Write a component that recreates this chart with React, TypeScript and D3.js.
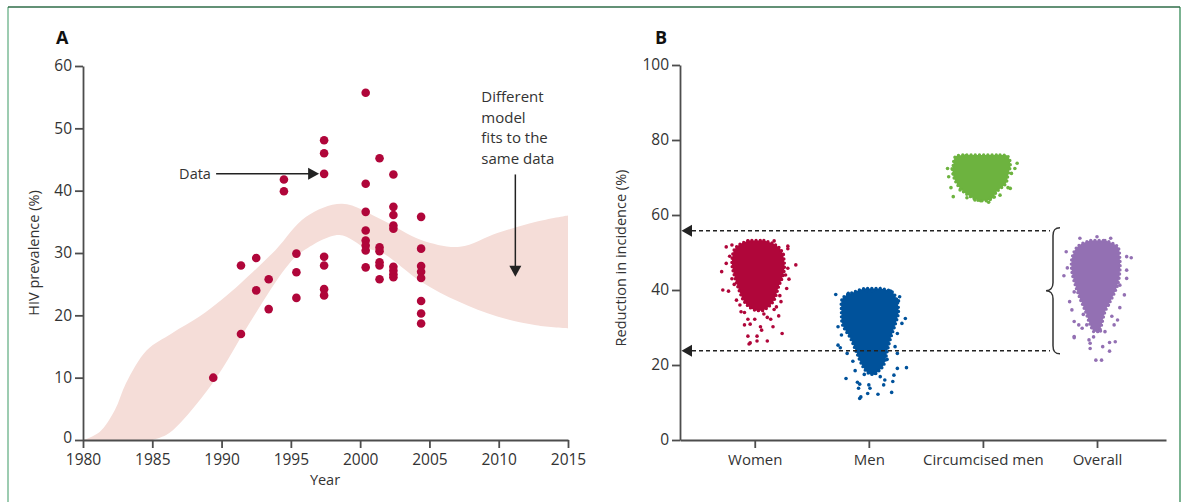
import React, { useEffect, useRef } from "react";
import * as d3 from "d3";

// Panel A: survey prevalence points
const surveyYears = [
  1989.4, 1991.4, 1991.4, 1992.5, 1992.5, 1993.4, 1993.4, 1994.5, 1994.5,
  1995.4, 1995.4, 1995.4, 1997.4, 1997.4, 1997.4, 1997.4, 1997.4, 1997.4, 1997.4,
  2000.4, 2000.4, 2000.4, 2000.4, 2000.4, 2000.4, 2000.4, 2000.4,
  2001.4, 2001.4, 2001.4, 2001.4, 2001.4, 2001.4,
  2002.4, 2002.4, 2002.4, 2002.4, 2002.4, 2002.4, 2002.4, 2002.4, 2002.4,
  2004.4, 2004.4, 2004.4, 2004.4, 2004.4, 2004.4, 2004.4, 2004.4,
];
const surveyPrevalence = [
  10, 28, 17, 29.2, 24, 25.8, 21, 41.8, 39.9,
  29.9, 26.9, 22.8, 48.1, 46, 42.7, 29.4, 28, 24.2, 23.2,
  55.7, 41.1, 36.6, 33.6, 32, 31.2, 30.4, 27.7,
  45.2, 30.9, 30.3, 28.5, 28, 25.8,
  42.6, 37.4, 36.1, 34.4, 33.9, 27.8, 27.2, 26.6, 26.1,
  35.8, 30.7, 27.9, 27, 26, 22.3, 20.3, 18.7,
];

// Panel A: model fit band edges
const bandUpperYears = [1980, 1981.2, 1982.3, 1983.1, 1984.6, 1986.4, 1988.4, 1990, 1991.4, 1993.9, 1996.1, 1998.7, 2001.6, 2004.4, 2007.2, 2009.9, 2012.7, 2015];
const bandUpperValues = [0, 1.3, 4.8, 9.1, 14.4, 17.1, 19.8, 22.5, 25.2, 30.5, 35.8, 37.9, 35.3, 32.1, 31, 33.2, 35, 36];
const bandLowerYears = [1985, 1986, 1987, 1989.5, 1992, 1994.7, 1995.8, 1998.5, 2000.4, 2001.6, 2004.4, 2007.1, 2009.9, 2012.7, 2015];
const bandLowerValues = [0, 0.8, 2.7, 9.6, 18.7, 27.8, 30.2, 32.9, 30.8, 30, 25.4, 22.2, 19.8, 18.4, 17.9];

const yearTicks = [1980, 1985, 1990, 1995, 2000, 2005, 2010, 2015];
const prevalenceTicks = [0, 10, 20, 30, 40, 50, 60];

// Panel B
const groups = ["Women", "Men", "Circumcised men", "Overall"];
const groupColors = ["#b0063a", "#00529b", "#6db33f", "#9370b3"];
const reductionTicks = [0, 20, 40, 60, 80, 100];

// dense part of each cloud: [reduction, left spread, right spread] (spread in category steps)
const womenCore = [[53.2, -0.04, 0.08], [52.4, -0.12, 0.16], [50.7, -0.18, 0.23], [47, -0.2, 0.26], [44, -0.18, 0.25], [41, -0.15, 0.21], [37.3, -0.1, 0.17], [35.5, -0.05, 0.12], [34.5, 0.01, 0.07]];
const menCore = [[40.4, -0.04, 0.1], [39.6, -0.12, 0.2], [37.8, -0.23, 0.24], [34.2, -0.24, 0.26], [30.7, -0.23, 0.23], [27.1, -0.16, 0.19], [23.5, -0.11, 0.16], [20, -0.06, 0.13], [18.2, -0.02, 0.08], [17.5, 0.01, 0.05]];
const circCore = [[76, -0.15, 0.15], [75.6, -0.24, 0.22], [73.3, -0.26, 0.24], [70.7, -0.26, 0.22], [68.4, -0.23, 0.2], [66.2, -0.17, 0.12], [64.4, -0.08, 0.08], [63.8, -0.03, 0.03]];
const overallCore = [[53.2, -0.06, 0.07], [51.6, -0.17, 0.18], [48.4, -0.22, 0.2], [44.9, -0.22, 0.2], [41.3, -0.19, 0.18], [37.8, -0.15, 0.13], [34.2, -0.1, 0.07], [30.7, -0.06, 0.04], [28.9, -0.03, 0.02]];

// scattered simulations outside the dense part: [offset in category steps, reduction]
const womenOutliers = [[-0.29, 44.9], [-0.28, 40], [-0.23, 39.7], [0.36, 46.7], [0.3, 42.9], [-0.25, 47.1], [-0.25, 51.5], [-0.2, 52], [-0.06, 53.1], [0.17, 53.1], [0.29, 51.7], [0.29, 51], [0.29, 45.8], [0.28, 40.4], [0.24, 28.4], [0.11, 26.4], [0.02, 27.7], [0.02, 26.4], [-0.06, 27.7], [-0.05, 25.6], [-0.04, 25.9], [-0.09, 30.7], [-0.04, 30.9], [0.05, 30.2], [0.06, 29.3], [0.16, 30.2], [0.21, 33.1], [0.14, 32.2], [0, 32.2], [-0.06, 32.2], [-0.09, 34], [-0.12, 34.2], [0.08, 33.6], [0.11, 32.7], [0.17, 34.8], [0.23, 36.9], [-0.16, 37.3], [-0.18, 41.5], [-0.22, 49], [0.25, 49.5], [0.27, 44], [-0.2, 43], [0.22, 38.5], [-0.13, 36], [0.19, 35.5]];
const menOutliers = [[-0.29, 38.8], [-0.27, 30.2], [-0.24, 28], [-0.27, 25.3], [-0.25, 24.6], [-0.19, 23.1], [-0.2, 16.4], [-0.1, 15.4], [-0.08, 14.9], [-0.09, 13.8], [-0.08, 11.1], [-0.07, 11.5], [-0.01, 12.4], [0.08, 12.2], [0.2, 12.7], [0.21, 15.6], [0.22, 17.3], [0.25, 19.1], [0.33, 19.3], [0.32, 32.4], [0.29, 31.1], [0.27, 38.2], [0.26, 37.1], [0.19, 39.7], [-0.02, 39.9], [0.03, 39.7], [-0.18, 39.1], [0.14, 16], [0.1, 16.9], [0.13, 14.7], [0, 14.7], [0.01, 13.8], [0.25, 23.1], [0.23, 24.9], [0.25, 28.4], [-0.14, 21], [-0.12, 18.5], [0.05, 17.8], [-0.04, 17.5], [0.16, 21.5]];
const circOutliers = [[-0.31, 72.4], [-0.3, 70.2], [-0.27, 72.3], [-0.26, 71], [0.28, 72.4], [0.3, 73.8], [0.25, 71.1], [0.24, 67.1], [0.22, 67.3], [-0.28, 67.3], [-0.26, 64.9], [-0.2, 66.7], [-0.14, 64.6], [-0.07, 64], [0.05, 63.4], [0.06, 64.4], [0.15, 65.3], [-0.15, 75.8], [0.2, 75.5], [-0.02, 63.8], [0.1, 64.8]];
const overallOutliers = [[-0.15, 53.8], [0, 54.2], [0.12, 53.8], [-0.27, 50.2], [-0.29, 43.8], [-0.26, 45.9], [0.26, 48.9], [0.3, 48.6], [0.26, 45.3], [0.26, 43.1], [0.24, 38.7], [0.2, 41.3], [-0.24, 36.9], [-0.22, 34.7], [-0.2, 31.6], [-0.2, 27.6], [-0.13, 29.8], [-0.07, 26.7], [-0.06, 25.8], [-0.06, 24.4], [0.05, 24.9], [0.11, 26], [0.11, 23.7], [0.16, 26.2], [-0.01, 21.3], [0.04, 21.3], [0.18, 32], [0.15, 30.7], [0.07, 28.9], [0.03, 29.1], [-0.09, 30.7], [-0.16, 30.7], [0.2, 35.3], [-0.2, 39.5], [-0.2, 27.3], [0.13, 33], [-0.12, 33.5], [0.1, 36], [-0.03, 27.5]];

const cores = [womenCore, menCore, circCore, overallCore];
const outliers = [womenOutliers, menOutliers, circOutliers, overallOutliers];

// range of the overall estimate, shown with the dashed arrows
const overallRange = [55.8, 23.8];

const FONT = "'Open Sans', sans-serif";
const INK = "#333";
const AXIS = "#4d4d4d";

const App = () => {
  const ref = useRef<SVGSVGElement>(null);

  useEffect(() => {
    drawChart();
  }, []);

  const drawChart = () => {
    const svg = d3.select(ref.current);
    svg.selectAll("*").remove();

    // frame
    svg.append("line").attr("x1", 8).attr("x2", 8).attr("y1", 7).attr("y2", 502)
      .attr("stroke", "#7dbb97").attr("stroke-width", 1.5);
    svg.append("line").attr("x1", 1180).attr("x2", 1180).attr("y1", 7).attr("y2", 502)
      .attr("stroke", "#4f9a6c").attr("stroke-width", 1.5);
    svg.append("line").attr("x1", 8).attr("x2", 1180).attr("y1", 7).attr("y2", 7)
      .attr("stroke", "#2f6c48").attr("stroke-width", 1.5);

    const styleAxis = (size) => (g) => {
      g.select(".domain").attr("stroke", AXIS).attr("stroke-width", 1.8);
      g.selectAll(".tick line").attr("stroke", AXIS).attr("stroke-width", 1.8);
      g.selectAll(".tick text").attr("fill", INK).attr("font-family", FONT).attr("font-size", size);
    };

    // ---------- Panel A ----------
    const xA = d3.scaleLinear().domain([1980, 2015]).range([83, 568]);
    const yA = d3.scaleLinear().domain([0, 60]).range([440, 66]);

    const upper = bandUpperYears.map((yr, i) => [xA(yr), yA(bandUpperValues[i])]);
    const lower = bandLowerYears.map((yr, i) => [xA(yr), yA(bandLowerValues[i])]).reverse();
    const line = d3.line().curve(d3.curveCatmullRom.alpha(0.5));
    const bandPath = line(upper) + "L" + line(lower).slice(1) + "Z";
    svg.append("path").attr("d", bandPath).attr("fill", "#f5ddd8");

    svg.append("g")
      .attr("transform", "translate(0,440)")
      .call(d3.axisBottom(xA).tickValues(yearTicks).tickFormat(d3.format("d")).tickSize(8).tickSizeOuter(0).tickPadding(6))
      .call(styleAxis(15.5));
    svg.append("g")
      .attr("transform", "translate(83,0)")
      .call(d3.axisLeft(yA).tickValues(prevalenceTicks).tickSize(8).tickSizeOuter(0).tickPadding(3))
      .call(styleAxis(15.5))
      .call((g) => g.selectAll(".tick text").filter((d) => d === 0).attr("dy", "0.18em"));

    svg.selectAll("circle.survey")
      .data(surveyYears)
      .enter()
      .append("circle")
      .attr("class", "survey")
      .attr("cx", (d) => xA(d))
      .attr("cy", (d, i) => yA(surveyPrevalence[i]))
      .attr("r", 4.3)
      .attr("fill", "#b0063a");

    // "Data" arrow
    const tipX = xA(1997.4) - 5;
    const tipY = yA(42.7);
    svg.append("line").attr("x1", tipX - 103).attr("x2", tipX - 8).attr("y1", tipY).attr("y2", tipY)
      .attr("stroke", "#222").attr("stroke-width", 1.5);
    svg.append("path").attr("d", `M${tipX},${tipY}L${tipX - 11},${tipY - 6}L${tipX - 11},${tipY + 6}Z`).attr("fill", "#222");
    svg.append("text").attr("x", tipX - 140).attr("y", tipY + 5).text("Data")
      .attr("font-family", FONT).attr("font-size", 14.5).attr("fill", INK);

    // "Different model fits" arrow
    const ax = xA(2011.2);
    const aTop = yA(42.6);
    const aTip = yA(26.2);
    svg.append("line").attr("x1", ax).attr("x2", ax).attr("y1", aTop).attr("y2", aTip - 8)
      .attr("stroke", "#222").attr("stroke-width", 1.5);
    svg.append("path").attr("d", `M${ax},${aTip}L${ax - 6},${aTip - 11}L${ax + 6},${aTip - 11}Z`).attr("fill", "#222");
    ["Different", "model", "fits to the", "same data"].forEach((t, i) => {
      svg.append("text").attr("x", ax - 34).attr("y", 102 + i * 20.6).text(t)
        .attr("font-family", FONT).attr("font-size", 15).attr("fill", INK);
    });

    svg.append("text").attr("x", 325).attr("y", 485).attr("text-anchor", "middle").text("Year")
      .attr("font-family", FONT).attr("font-size", 14.5).attr("fill", INK);
    svg.append("text").attr("transform", "translate(39,253) rotate(-90)").attr("text-anchor", "middle")
      .text("HIV prevalence (%)").attr("font-family", FONT).attr("font-size", 14.5).attr("fill", INK);
    svg.append("text").attr("x", 56).attr("y", 44).text("A")
      .attr("font-family", FONT).attr("font-weight", 700).attr("font-size", 18).attr("fill", "#111");

    // ---------- Panel B ----------
    const xB = d3.scalePoint().domain(groups).range([680, 1166]).padding(0.63).align(0.52);
    const yB = d3.scaleLinear().domain([0, 100]).range([440, 65]);
    const step = xB.step();

    svg.append("g")
      .attr("transform", "translate(0,440)")
      .call(d3.axisBottom(xB).tickSize(8).tickSizeOuter(0).tickPadding(6))
      .call(styleAxis(15));
    svg.append("g")
      .attr("transform", "translate(680,0)")
      .call(d3.axisLeft(yB).tickValues(reductionTicks).tickSize(8).tickSizeOuter(0).tickPadding(3))
      .call(styleAxis(15.5));

    groups.forEach((g, gi) => {
      const cx = xB(g);
      const col = groupColors[gi];
      const area = d3.area()
        .y((d) => yB(d[0]))
        .x0((d) => cx + d[1] * step)
        .x1((d) => cx + d[2] * step)
        .curve(d3.curveCatmullRom);
      svg.append("path")
        .attr("d", area(cores[gi]))
        .attr("fill", col)
        .attr("stroke", col)
        .attr("stroke-width", 3.4)
        .attr("stroke-linecap", "round")
        .attr("stroke-dasharray", "0 4.2");
      svg.append("g").selectAll("circle")
        .data(outliers[gi])
        .enter()
        .append("circle")
        .attr("cx", (d) => cx + d[0] * step)
        .attr("cy", (d) => yB(d[1]))
        .attr("r", 1.8)
        .attr("fill", col);
    });

    // dashed arrows to the y axis
    overallRange.forEach((v) => {
      const yy = yB(v);
      svg.append("line").attr("x1", 692).attr("x2", 1050).attr("y1", yy).attr("y2", yy)
        .attr("stroke", "#222").attr("stroke-width", 1.3).attr("stroke-dasharray", "4 3");
      svg.append("path").attr("d", `M681.5,${yy}L692,${yy - 6}L692,${yy + 6}Z`).attr("fill", "#222");
    });

    // curly bracket
    const y1 = yB(overallRange[0]) - 3;
    const y2 = yB(overallRange[1]) + 3;
    const ym = (y1 + y2) / 2;
    const bx = 1053;
    svg.append("path")
      .attr("d", `M${bx + 7},${y1}C${bx + 2},${y1} ${bx},${y1 + 2} ${bx},${y1 + 8}L${bx},${ym - 8}C${bx},${ym - 3} ${bx - 3},${ym} ${bx - 7},${ym}C${bx - 3},${ym} ${bx},${ym + 3} ${bx},${ym + 8}L${bx},${y2 - 8}C${bx},${y2 - 2} ${bx + 2},${y2} ${bx + 7},${y2}`)
      .attr("fill", "none").attr("stroke", "#333").attr("stroke-width", 1.5);

    svg.append("text").attr("transform", "translate(626,258) rotate(-90)").attr("text-anchor", "middle")
      .text("Reduction in incidence (%)").attr("font-family", FONT).attr("font-size", 14.5).attr("fill", INK);
    svg.append("text").attr("x", 655).attr("y", 44).text("B")
      .attr("font-family", FONT).attr("font-weight", 700).attr("font-size", 18).attr("fill", "#111");
  };

  return (
    <svg
      ref={ref}
      width={1182}
      height={502}
      style={{ position: "absolute", left: 0, top: 0, background: "#fff" }}
    />
  );
};

export default App;
